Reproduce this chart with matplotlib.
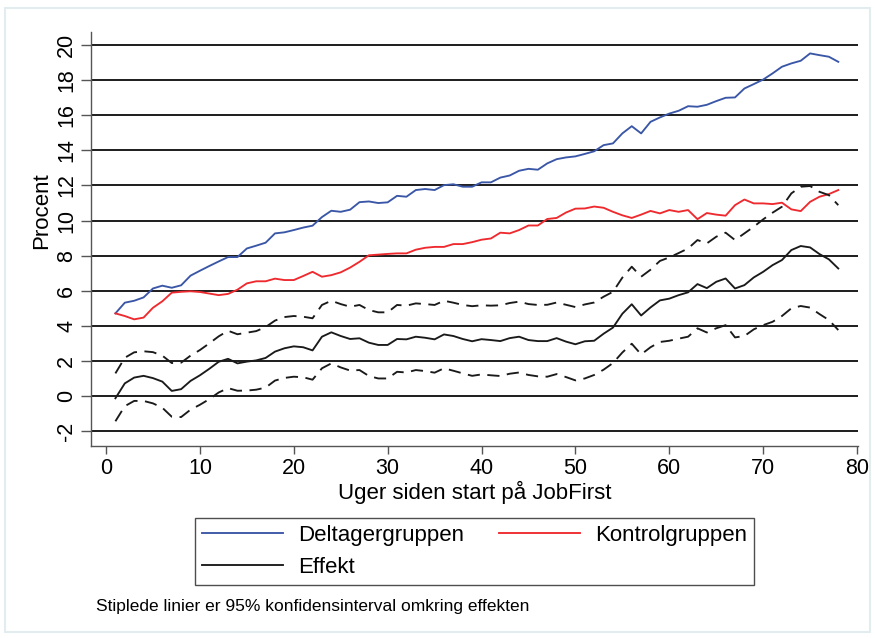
import matplotlib
matplotlib.use("Agg")
import matplotlib.pyplot as plt
from matplotlib.patches import Rectangle

weeks = list(range(1, 79))

deltager = [4.71, 5.32, 5.43, 5.62, 6.13, 6.29, 6.17, 6.31, 6.86, 7.14,
            7.41, 7.67, 7.92, 7.92, 8.41, 8.57, 8.74, 9.27, 9.33, 9.46,
            9.60, 9.71, 10.20, 10.56, 10.50, 10.62, 11.05, 11.09, 11.00, 11.04,
            11.41, 11.36, 11.74, 11.80, 11.74, 12.02, 12.07, 11.93, 11.93, 12.18,
            12.18, 12.45, 12.57, 12.84, 12.95, 12.90, 13.26, 13.50, 13.60, 13.66,
            13.80, 13.95, 14.30, 14.40, 14.97, 15.38, 14.97, 15.63, 15.88, 16.10,
            16.26, 16.52, 16.49, 16.60, 16.81, 17.00, 17.02, 17.53, 17.78, 18.04,
            18.39, 18.77, 18.96, 19.11, 19.53, 19.43, 19.34, 19.05]

kontrol = [4.71, 4.56, 4.37, 4.47, 5.03, 5.40, 5.89, 5.94, 5.97, 5.93,
           5.84, 5.75, 5.82, 6.06, 6.42, 6.54, 6.54, 6.69, 6.61, 6.61,
           6.84, 7.08, 6.80, 6.89, 7.05, 7.32, 7.65, 8.02, 8.06, 8.10,
           8.13, 8.13, 8.34, 8.45, 8.50, 8.50, 8.66, 8.66, 8.77, 8.91,
           8.98, 9.31, 9.27, 9.46, 9.72, 9.72, 10.09, 10.15, 10.46, 10.68,
           10.69, 10.80, 10.73, 10.50, 10.30, 10.15, 10.34, 10.55, 10.41, 10.60,
           10.50, 10.60, 10.08, 10.43, 10.34, 10.28, 10.88, 11.20, 10.98, 10.98,
           10.94, 11.02, 10.64, 10.54, 11.07, 11.36, 11.51, 11.74]

effekt = [-0.13, 0.72, 1.05, 1.15, 1.02, 0.82, 0.29, 0.39, 0.86, 1.18,
          1.55, 1.95, 2.12, 1.86, 1.96, 2.03, 2.17, 2.53, 2.72, 2.83,
          2.78, 2.60, 3.38, 3.63, 3.42, 3.25, 3.29, 3.04, 2.91, 2.91,
          3.25, 3.23, 3.38, 3.32, 3.23, 3.51, 3.42, 3.25, 3.12, 3.24,
          3.19, 3.13, 3.30, 3.38, 3.19, 3.13, 3.13, 3.30, 3.10, 2.95,
          3.12, 3.15, 3.55, 3.90, 4.69, 5.23, 4.59, 5.05, 5.45, 5.55,
          5.75, 5.91, 6.38, 6.15, 6.51, 6.70, 6.13, 6.32, 6.76, 7.08,
          7.46, 7.75, 8.32, 8.55, 8.47, 8.09, 7.79, 7.27]

ci_upper = [1.29, 2.18, 2.49, 2.55, 2.50, 2.30, 1.88, 1.90, 2.30, 2.62,
            3.00, 3.40, 3.72, 3.52, 3.61, 3.70, 3.93, 4.30, 4.50, 4.56,
            4.52, 4.43, 5.19, 5.43, 5.24, 5.09, 5.19, 4.90, 4.77, 4.77,
            5.19, 5.15, 5.28, 5.24, 5.19, 5.43, 5.32, 5.19, 5.12, 5.17,
            5.15, 5.17, 5.30, 5.38, 5.24, 5.19, 5.20, 5.33, 5.20, 5.07,
            5.22, 5.33, 5.66, 5.94, 6.75, 7.37, 6.80, 7.20, 7.70, 7.90,
            8.15, 8.41, 8.89, 8.70, 9.08, 9.31, 8.89, 9.27, 9.65, 10.07,
            10.45, 10.79, 11.55, 11.93, 11.97, 11.64, 11.45, 10.88]

ci_lower = [-1.44, -0.58, -0.28, -0.28, -0.42, -0.67, -1.18, -1.20, -0.78, -0.50,
            -0.18, 0.20, 0.45, 0.30, 0.31, 0.36, 0.48, 0.88, 1.03, 1.10,
            1.07, 0.93, 1.58, 1.86, 1.63, 1.45, 1.48, 1.14, 1.00, 1.00,
            1.38, 1.34, 1.48, 1.42, 1.33, 1.58, 1.44, 1.29, 1.15, 1.23,
            1.18, 1.14, 1.27, 1.34, 1.20, 1.12, 1.10, 1.25, 1.08, 0.89,
            1.00, 1.20, 1.50, 1.88, 2.48, 2.98, 2.37, 2.78, 3.08, 3.15,
            3.27, 3.38, 3.86, 3.62, 3.86, 4.04, 3.34, 3.42, 3.80, 4.04,
            4.23, 4.56, 5.00, 5.13, 5.04, 4.67, 4.33, 3.76]

x_ticks = [0, 10, 20, 30, 40, 50, 60, 70, 80]
y_ticks = [-2, 0, 2, 4, 6, 8, 10, 12, 14, 16, 18, 20]

FONT = ["Liberation Sans", "DejaVu Sans"]
plt.rcParams["font.family"] = FONT

fig = plt.figure(figsize=(8.75, 6.38), dpi=100)
fig.patch.set_facecolor("white")
fig.patches.append(Rectangle((5 / 875, 1 - 632 / 638), 865 / 875, 624 / 638,
                             transform=fig.transFigure, fill=False,
                             edgecolor="#e3ecee", lw=1.5))

ax = fig.add_axes([91 / 875, 1 - 446 / 638, (858 - 91) / 875, (446 - 32) / 638])
ax.set_facecolor("white")

for yv in y_ticks:
    ax.axhline(yv, color="#1c1c1c", lw=1.4, zorder=1)

BLUE = "#3a56a6"
RED = "#ee2a2f"
ax.plot(weeks, deltager, color=BLUE, lw=1.35, zorder=3, label="Deltagergruppen")
ax.plot(weeks, kontrol, color=RED, lw=1.35, zorder=3, label="Kontrolgruppen")
ax.plot(weeks, effekt, color="#1a1a1a", lw=1.35, zorder=3, label="Effekt")
ax.plot(weeks, ci_upper, color="#1a1a1a", lw=1.35, ls=(0, (6.5, 4)), zorder=3)
ax.plot(weeks, ci_lower, color="#1a1a1a", lw=1.35, ls=(0, (6.5, 4)), zorder=3)

ax.set_xlim(-1.6, 80.1)
ax.set_ylim(-2.85, 20.75)
ax.set_xticks(x_ticks)
ax.set_yticks(y_ticks)
ax.set_xticklabels([str(v) for v in x_ticks], fontsize=15.5)
ax.set_yticklabels([str(v) for v in y_ticks], fontsize=15.5, rotation=90, va="center")
ax.tick_params(axis="both", direction="out", color="#555555", width=1.0)
ax.tick_params(axis="y", length=7, pad=3)
ax.tick_params(axis="x", length=6, pad=3)
for s in ["top", "right"]:
    ax.spines[s].set_visible(False)
for s in ["left", "bottom"]:
    ax.spines[s].set_color("#555555")
    ax.spines[s].set_linewidth(1.0)

ax.set_xlabel("Uger siden start på JobFirst", fontsize=16)
ax.xaxis.set_label_coords(0.5, (446 - 492) / 414, transform=ax.transAxes)
ax.xaxis.label.set_va("center")
ax.set_ylabel("Procent", fontsize=16)
ax.yaxis.set_label_coords((42 - 91) / 767, (446 - 211) / 414, transform=ax.transAxes)
ax.yaxis.label.set_va("center")

h, l = ax.get_legend_handles_labels()
order = [0, 2, 1]
leg = fig.legend([h[i] for i in order], [l[i] for i in order], ncol=2,
                 loc="upper center",
                 bbox_to_anchor=(474.5 / 875, 1 - 518 / 638),
                 frameon=True, fancybox=False, edgecolor="#222222",
                 fontsize=16, handlelength=3.65, handletextpad=0.65,
                 borderpad=0.32, labelspacing=0.48, columnspacing=1.6,
                 borderaxespad=0)
leg.get_frame().set_linewidth(1.0)

fig.text(96 / 875, 1 - 607 / 638, "Stiplede linier er 95% konfidensinterval omkring effekten",
         fontsize=12.5, va="center", ha="left")

fig.savefig("out.png", dpi=100, facecolor="white")
